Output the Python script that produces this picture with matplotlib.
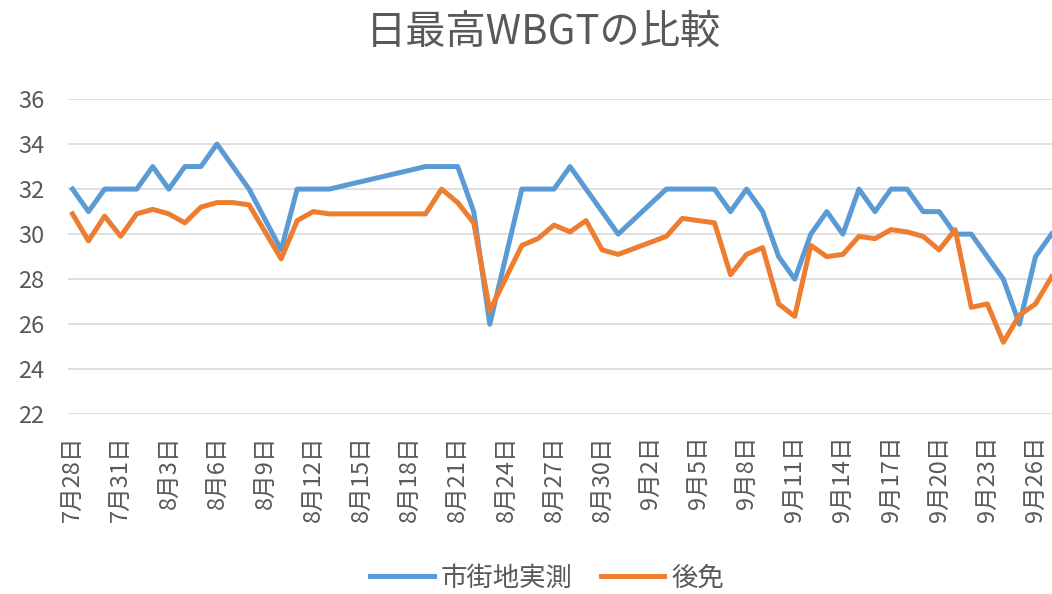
import numpy as np
import pandas as pd
import matplotlib
matplotlib.use('Agg')
import matplotlib.pyplot as plt
import matplotlib.dates as mdates

plt.rcParams['font.family'] = ['Noto Sans CJK JP', 'DejaVu Sans']

# daily data 7/28 - 9/27 (nan = no data, line joins across)
dates = pd.date_range('2020-07-28', '2020-09-27', freq='D')
nan = np.nan
shigaichi = [32, 31, 32, 32, 32, 33, 32, 33, 33, 34,
             33, 32, nan, 29.3, 32, 32, 32, nan, nan, nan,
             nan, nan, 33, 33, 33, 31, 26, nan, 32, 32,
             32, 33, 32, 31, 30, nan, nan, 32, 32, 32,
             32, 31, 32, 31, 29, 28, 30, 31, 30, 32,
             31, 32, 32, 31, 31, 30, 30, 29, 28, 26,
             29, 30]
gomen = [30.9, 29.7, 30.8, 29.9, 30.9, 31.1, 30.9, 30.5, 31.2, 31.4,
         31.4, 31.3, nan, 28.9, 30.6, 31.0, 30.9, nan, nan, nan,
         nan, nan, 30.9, 32.0, 31.4, 30.5, 26.6, nan, 29.5, 29.8,
         30.4, 30.1, 30.6, 29.3, 29.1, nan, nan, 29.9, 30.7, 30.6,
         30.5, 28.2, 29.1, 29.4, 26.9, 26.35, 29.5, 29.0, 29.1, 29.9,
         29.8, 30.2, 30.1, 29.9, 29.3, 30.2, 26.75, 26.9, 25.2, 26.4,
         26.9, 28.1]
series_names = ['市街地実測', '後免']
colors = ['#5B9BD5', '#ED7D31']
title = '日最高WBGTの比較'

fig = plt.figure(figsize=(10.52, 5.94), dpi=100)
ax = fig.add_axes([68 / 1052, 179.7 / 594, 1 - 68 / 1052, 315.3 / 594])

for vals, name, c in zip([shigaichi, gomen], series_names, colors):
    v = np.array(vals, dtype=float)
    m = ~np.isnan(v)
    ax.plot(dates[m], v[m], color=c, lw=3.6, label=name,
            solid_joinstyle='round', clip_on=False)

ax.set_ylim(22, 36)
ax.set_yticks(np.arange(22, 37, 2))
x0 = mdates.date2num(dates[0])
ax.set_xlim(x0 - 0.28, x0 + 61.03)
ticks = dates[::3]
ax.set_xticks(ticks)
ax.set_xticklabels([f'{d.month}月{d.day}日' for d in ticks], rotation=90)

ax.grid(axis='y', color='#D9D9D9', lw=1.2)
ax.set_axisbelow(True)
for s in ax.spines.values():
    s.set_visible(False)
ax.tick_params(axis='both', length=0, labelsize=17, labelcolor='#595959')
ax.tick_params(axis='y', pad=17)
ax.tick_params(axis='x', pad=15)

fig.text(0.517, 0.946, title, ha='center', va='center', fontsize=29,
         color='#595959')

fig.legend(loc='center', bbox_to_anchor=(0.52, 0.027), ncol=2,
           frameon=False, fontsize=19, handlelength=2.4, handletextpad=0.25,
           columnspacing=1.1, labelcolor='#595959')

fig.savefig('out.png', dpi=100)
